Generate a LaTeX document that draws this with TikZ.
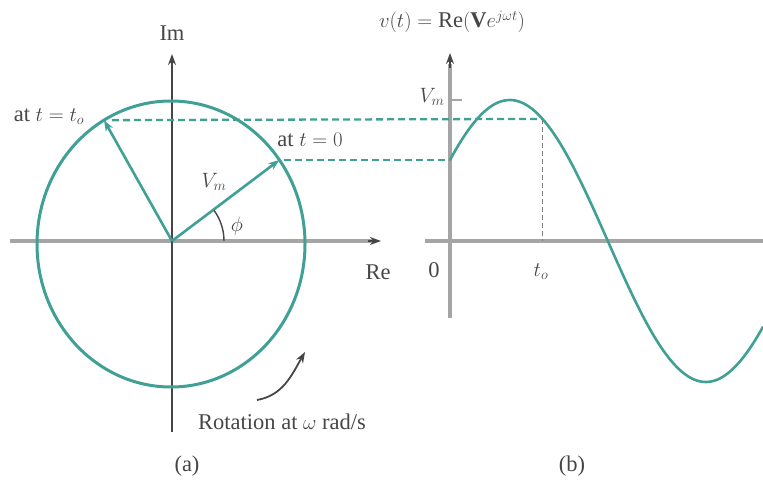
\documentclass[tikz,border=0pt]{standalone}
\usepackage{amsmath}
\usepackage{fontspec}
\setmainfont{Liberation Serif}
\usetikzlibrary{arrows.meta}
\usetikzlibrary{calc}

\definecolor{phasor}{RGB}{64,160,150}
\definecolor{axisgray}{RGB}{165,165,165}
\definecolor{ink}{RGB}{70,70,70}

\begin{document}
\begin{tikzpicture}[x=1pt,y=1pt,>={Stealth[length=11pt,width=8pt]},
    font=\fontsize{22.5}{27}\selectfont,text=ink,
    axis/.style={draw=axisgray,line width=3.6pt},
    thinaxis/.style={draw=ink,line width=1.8pt},
    wave/.style={draw=phasor,line width=2.6pt},
    guide/.style={draw=phasor,dash pattern=on 7pt off 4pt,line width=2.3pt},
    lbl/.style={inner sep=1pt}]
  \useasboundingbox (0,0) rectangle (763,488);
  \coordinate (O)  at (172,247);
  \coordinate (C)  at (171,244);
  \coordinate (O2) at (450,247);
  \coordinate (T0) at ($(C)+(36:134 and 143)$);
  \coordinate (T1) at ($(C)+(120:134 and 143)$);
  \coordinate (S1) at (542.5,369.1);

  % phasor diagram (a)
  \draw[axis] (10,247) -- (372,247);
  \draw[-{Stealth[length=11pt,width=8pt]},ink,line width=1.4pt] (368,247) -- (381,247);
  \draw[thinaxis,->] (172,56) -- (172,434);
  \draw[phasor,line width=3pt] (C) ellipse (134 and 143);
  \draw[wave,->] (O) -- (T0);
  \draw[wave,->] (O) -- (T1);
  \draw[ink,line width=1.4pt] ($(O)+(52,0)$) arc (0:36:52);
  \draw[->,ink,line width=1.8pt] (257,88) to[out=10,in=240] (305,136);

  % waveform (b)
  \draw[axis] (425,247) -- (763,247);
  \draw[axis] (450,170) -- (450,424);
  \draw[-{Stealth[length=11pt,width=8pt]},ink,line width=1.4pt] (450,420) -- (450,435);
  \draw[axis,line width=2.4pt] (450,388) -- (462,388);
  \draw[wave] plot[domain=450:763,samples=120] (\x,{247+141*sin(35.07+(\x-450)*0.9184)});

  % projections
  \draw[guide] ($(T0)+(5,0)$) -- (T0 -| O2);
  \draw[guide] ($(T1)+(8,0)$) -- (S1);
  \draw[draw=ink!70,dash pattern=on 5pt off 3pt,line width=1.8pt] (S1) -- (S1 |- O2);

  % labels
  \node[lbl] (im)    at (172,455) {Im};
  \node[lbl] (re)    at (378,216) {Re};
  \node[lbl] (tzero) at (49,371)  {at $t=t_o$};
  \node[lbl] (tnil)  at (310,348) {at $t=0$};
  \node[lbl] (vmag)  at (214,306) {$V_m$};
  \node[lbl] (phi)   at (237,262) {$\phi$};
  \node[lbl] (rot)   at (282,66)  {Rotation at $\omega$ rad/s};
  \node[lbl] (capa)  at (187,22)  {(a)};
  \node[lbl] (title) at (452,466) {$v(t)=\text{Re}(\mathbf{V}e^{j\omega t})$};
  \node[lbl] (vmax)  at (432,391) {$V_m$};
  \node[lbl] (zero)  at (434,218) {0};
  \node[lbl] (tnot)  at (541,216) {$t_o$};
  \node[lbl] (capb)  at (572,22)  {(b)};
\end{tikzpicture}
\end{document}
